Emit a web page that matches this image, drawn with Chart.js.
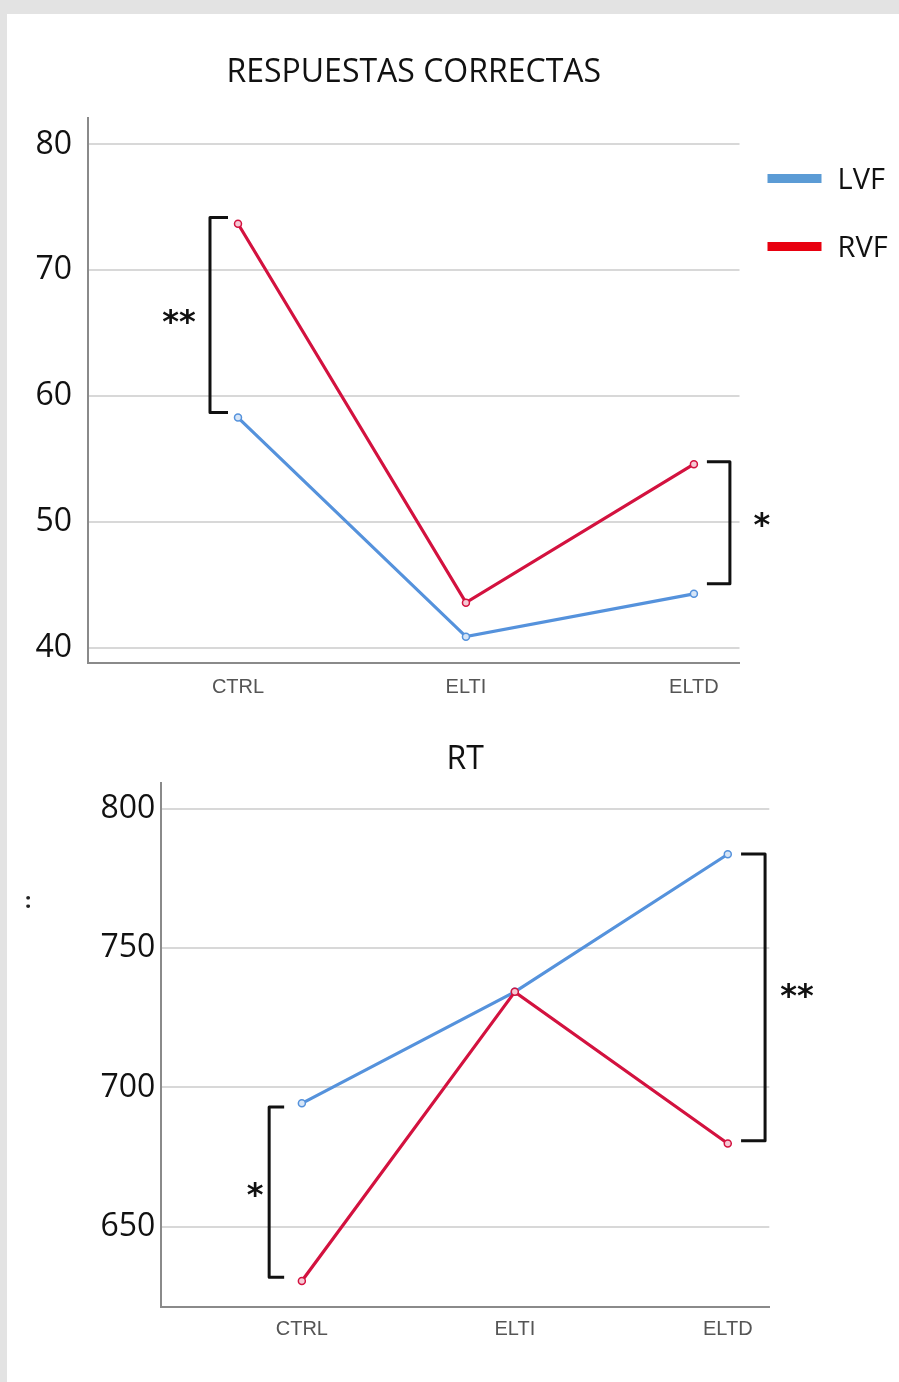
<!DOCTYPE html>
<html>
<head>
<meta charset="utf-8">
<script src="https://cdn.jsdelivr.net/npm/chart.js@4.4.1/dist/chart.umd.min.js"></script>
<style>
  body { margin: 0; background: #e3e3e3; width: 899px; height: 1382px; overflow: hidden; position: relative; }
  .panel { position: absolute; left: 7px; top: 14px; right: 0; bottom: 0; background: #fff; }
  .wrap { position: absolute; left: 0; width: 899px; }
  #topWrap { top: 0; height: 710px; }
  #rtWrap { top: 700px; height: 682px; }
  .stray { position: absolute; left: 25px; top: 884px; font: bold 22px "Open Sans"; color: #222; }
</style>
</head>
<body>
<div class="panel"></div>
<div class="wrap" id="topWrap"><canvas id="correctChart" width="899" height="710"></canvas></div>
<div class="wrap" id="rtWrap"><canvas id="rtChart" width="899" height="682"></canvas></div>
<div class="stray">:</div>
<script>
const categories = ["CTRL", "ELTI", "ELTD"];
const seriesNames = ["LVF", "RVF"];

// respuestas correctas
const correctLVF = [58.3, 40.9, 44.3];
const correctRVF = [73.7, 43.6, 54.6];
const correctTicks = [40, 50, 60, 70, 80];

// RT
const rtLVF = [694.3, 734.3, 783.7];
const rtRVF = [630.5, 734.3, 679.9];
const rtTicks = [650, 700, 750, 800];

// significance brackets (value range between the two series)
const correctBrackets = [
  { cat: 0, from: 58.7, to: 74.2, side: "left", mark: "**" },
  { cat: 2, from: 45.1, to: 54.8, side: "right", mark: "*" },
];
const rtBrackets = [
  { cat: 0, from: 631.9, to: 693.0, side: "left", mark: "*" },
  { cat: 2, from: 680.9, to: 783.8, side: "right", mark: "**" },
];

const BLUE = "#5592dc";
const RED = "#d3123f";

const toPoints = (vals) => vals.map((v, i) => ({ x: i, y: v }));

const makeDatasets = (lvf, rvf) => [
  {
    label: seriesNames[0], data: toPoints(lvf), borderColor: BLUE, legendColor: "#5b9bd5",
    pointBackgroundColor: "#d6e5f7", pointBorderColor: BLUE, order: 1,
  },
  {
    label: seriesNames[1], data: toPoints(rvf), borderColor: RED, legendColor: "#e8000f",
    pointBackgroundColor: "#f5c9d4", pointBorderColor: RED, order: 0,
  },
];

const bracketPlugin = {
  id: "brackets",
  afterDatasetsDraw(chart, args, opts) {
    const { ctx, scales: { x, y } } = chart;
    ctx.save();
    ctx.strokeStyle = "#111";
    ctx.fillStyle = "#111";
    ctx.lineWidth = 3;
    ctx.lineJoin = "round";
    ctx.font = "bold 32px 'DejaVu Sans'";
    ctx.textAlign = "center";
    ctx.textBaseline = "middle";
    opts.items.forEach((b, i) => {
      const st = opts.layout[i];
      const dir = b.side === "left" ? -1 : 1;
      const bx = x.getPixelForValue(b.cat) + dir * st.gap;
      const y1 = y.getPixelForValue(b.to);
      const y2 = y.getPixelForValue(b.from);
      ctx.beginPath();
      ctx.moveTo(bx - dir * st.arm, y1);
      ctx.lineTo(bx, y1);
      ctx.lineTo(bx, y2);
      ctx.lineTo(bx - dir * st.arm, y2);
      ctx.stroke();
      ctx.fillText(b.mark, bx + dir * st.text, (y1 + y2) / 2 + st.dy);
    });
    ctx.restore();
  },
};

const legendPlugin = {
  id: "sideLegend",
  afterDraw(chart, args, opts) {
    if (!opts.show) return;
    const { ctx, chartArea } = chart;
    ctx.save();
    ctx.font = "29px 'Open Sans'";
    ctx.textBaseline = "middle";
    chart.data.datasets.forEach((ds, i) => {
      const yy = chartArea.top + opts.top + i * opts.spacing;
      const xx = chartArea.right + opts.left;
      ctx.fillStyle = ds.legendColor;
      ctx.fillRect(xx, yy - 4, 54, 9);
      ctx.fillStyle = "#111";
      ctx.fillText(ds.label, xx + 70, yy + 3);
    });
    ctx.restore();
  },
};

function buildChart(canvasId, cfg) {
  return new Chart(document.getElementById(canvasId), {
    type: "line",
    data: { datasets: makeDatasets(cfg.lvf, cfg.rvf) },
    options: {
      responsive: false,
      animation: false,
      layout: { padding: cfg.padding },
      elements: {
        line: { borderWidth: 3.2, tension: 0 },
        point: { radius: 3.5, borderWidth: 1.5 },
      },
      scales: {
        x: {
          type: "linear",
          min: cfg.xMin,
          max: cfg.xMax,
          afterBuildTicks: (s) => { s.ticks = categories.map((c, i) => ({ value: i })); },
          afterFit: (s) => { s.height = 40; },
          ticks: {
            callback: (v) => categories[v],
            color: "#555",
            font: { family: "'Liberation Sans', Arial", size: 20 },
            padding: cfg.xPad,
            maxRotation: 0,
          },
          grid: { display: false },
          border: { display: true, color: "#8a8a8a", width: 2 },
        },
        y: {
          min: cfg.yMin,
          max: cfg.yMax,
          afterBuildTicks: (s) => { s.ticks = cfg.ticks.map((v) => ({ value: v })); },
          afterFit: (s) => { s.width = cfg.yWidth; },
          ticks: {
            color: "#111",
            font: { family: "'Open Sans'", size: 32 },
            padding: cfg.yPad,
          },
          grid: { color: "#d8d8d8", lineWidth: 2, drawTicks: false },
          border: { display: true, color: "#8a8a8a", width: 2 },
        },
      },
      plugins: {
        legend: { display: false },
        tooltip: { enabled: false },
        title: {
          display: true,
          text: cfg.title,
          fullSize: false,
          color: "#111",
          font: { family: "'Open Sans'", size: 32, weight: "normal", lineHeight: 1.2 },
          padding: cfg.titlePad,
        },
        brackets: { items: cfg.brackets, layout: cfg.bracketLayout },
        sideLegend: { show: cfg.legend, left: 28, top: 60, spacing: 68 },
      },
    },
    plugins: [bracketPlugin, legendPlugin],
  });
}

buildChart("correctChart", {
  title: "RESPUESTAS CORRECTAS",
  lvf: correctLVF, rvf: correctRVF, ticks: correctTicks,
  yMin: 38.83, yMax: 82.1, xMin: -0.658, xMax: 2.2,
  yWidth: 60, yPad: 16, xPad: 5,
  padding: { left: 28, right: 159.5, top: 0, bottom: 7.3 },
  titlePad: { top: 54, bottom: 25.6 },
  brackets: correctBrackets,
  bracketLayout: [{ gap: 28, arm: 18, text: 31, dy: 9 }, { gap: 36, arm: 23, text: 32, dy: 4 }],
  legend: true,
});

buildChart("rtChart", {
  title: "RT",
  lvf: rtLVF, rvf: rtRVF, ticks: rtTicks,
  yMin: 621.3, yMax: 809.3, xMin: -0.66, xMax: 2.195,
  yWidth: 70, yPad: 6, xPad: 3,
  padding: { left: 91.3, right: 129.7, top: 0, bottom: 35.3 },
  titlePad: { top: 41, bottom: 3.5 },
  brackets: rtBrackets,
  bracketLayout: [{ gap: 32.7, arm: 15, text: 14, dy: 5 }, { gap: 37.3, arm: 24, text: 32, dy: 0 }],
  legend: false,
});
</script>
</body>
</html>
